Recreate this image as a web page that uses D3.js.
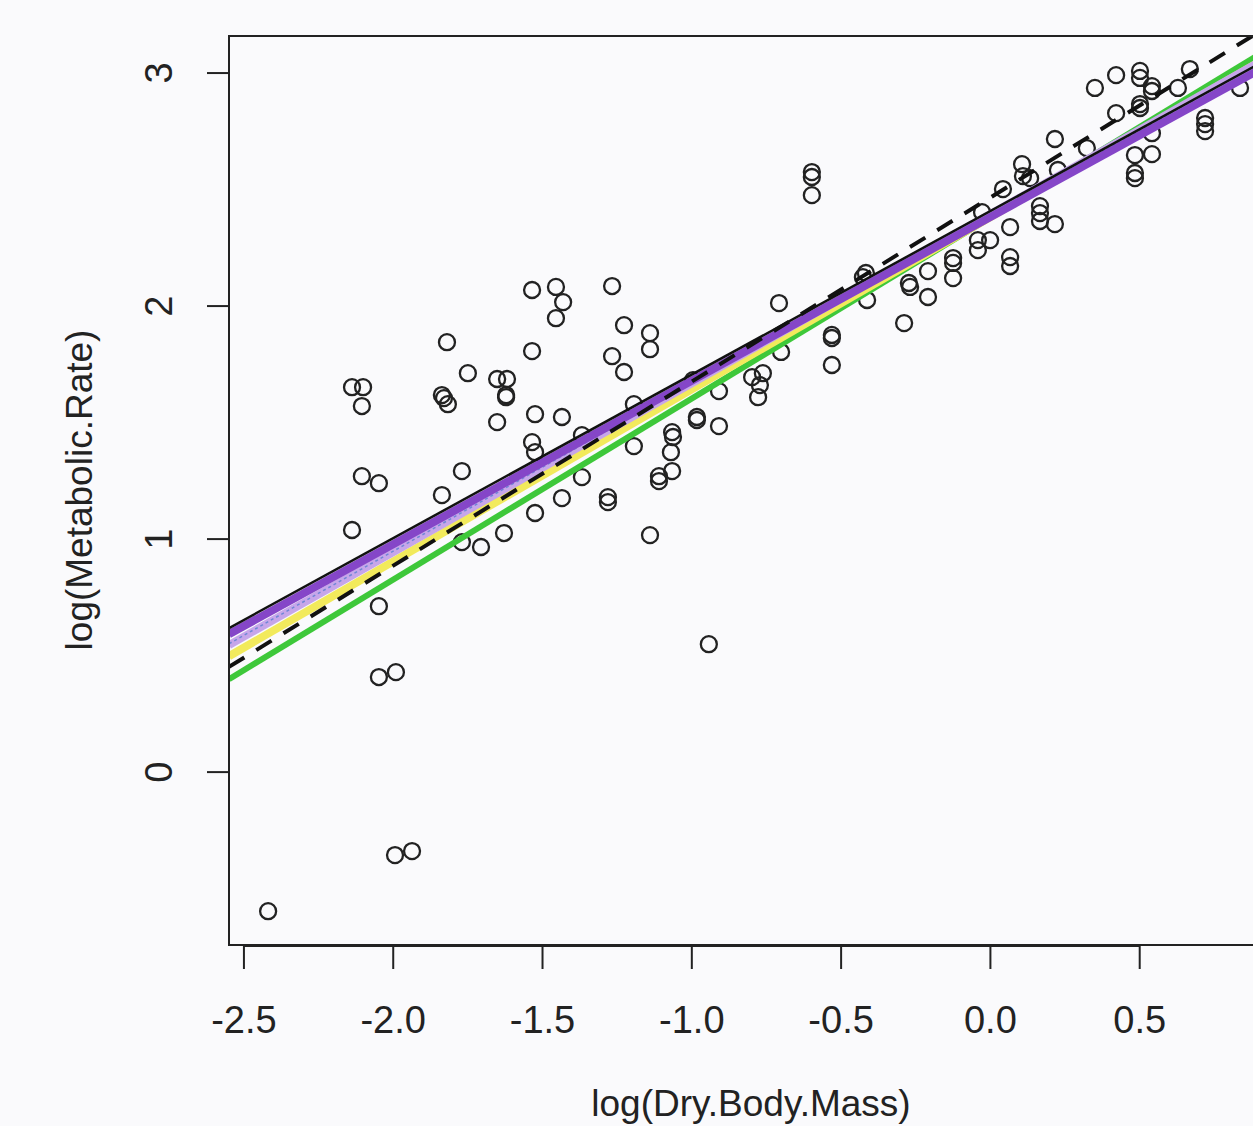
<!DOCTYPE html>
<html>
<head>
  <meta charset="utf-8">
  <script src="https://d3js.org/d3.v7.min.js"></script>
  <style>
    body { margin: 0; background-color: #fafafc; }
    svg { display: block; background-color: #fafafc; }
    text { font-family: "Liberation Sans", Arial, sans-serif; fill: #222; }
  </style>
</head>
<body>
  <svg id="plot" width="1253" height="1126"></svg>

  <script>
    // data: log(Dry.Body.Mass) vs log(Metabolic.Rate)
    var massLog = [
      -2.419, -1.994, -1.937, -2.048, -1.991, -2.048, -2.138, -2.105, -2.048, -2.138,
      -2.101, -2.105, -1.820, -1.837, -1.830, -1.817, -1.750, -1.770, -1.837, -1.770,
      -1.706, -1.629, -1.652, -1.619, -1.622, -1.622, -1.652, -1.535, -1.455, -1.431,
      -1.455, -1.535, -1.525, -1.435, -1.535, -1.525, -1.435, -1.525, -1.368, -1.368,
      -1.281, -1.281, -1.267, -1.227, -1.140, -1.140, -1.267, -1.227, -1.194, -1.194,
      -1.140, -1.110, -1.110, -1.066, -1.063, -1.070, -1.066, -0.996, -0.983, -0.983,
      -0.909, -0.909, -0.943, -0.798, -0.762, -0.772, -0.778, -0.708, -0.701, -0.598,
      -0.598, -0.598, -0.531, -0.531, -0.531, -0.417, -0.427, -0.413, -0.289, -0.273,
      -0.269, -0.209, -0.209, -0.125, -0.125, -0.125, -0.042, -0.042, -0.001, -0.028,
       0.066,  0.066,  0.066,  0.042,  0.106,  0.109,  0.133,  0.166,  0.166,  0.166,
       0.216,  0.216,  0.323,  0.226,  0.350,  0.421,  0.501,  0.501,  0.541,  0.541,
       0.501,  0.501,  0.421,  0.628,  0.668,  0.541,  0.484,  0.541,  0.484,  0.484,
       0.719,  0.719,  0.719,  0.836
    ];
    var rateLog = [
      -0.597, -0.356, -0.339,  0.408,  0.429,  0.712,  1.039,  1.270,  1.240,  1.652,
       1.652,  1.571,  1.845,  1.618,  1.605,  1.579,  1.712,  1.292,  1.189,  0.987,
       0.966,  1.026,  1.687,  1.687,  1.618,  1.609,  1.502,  2.069,  2.082,  2.017,
       1.948,  1.807,  1.536,  1.524,  1.416,  1.373,  1.176,  1.112,  1.446,  1.266,
       1.180,  1.159,  2.086,  1.918,  1.884,  1.815,  1.785,  1.717,  1.579,  1.399,
       1.017,  1.270,  1.249,  1.459,  1.438,  1.373,  1.292,  1.682,  1.524,  1.511,
       1.635,  1.485,  0.549,  1.695,  1.712,  1.661,  1.609,  2.013,  1.803,  2.575,
       2.554,  2.476,  1.876,  1.863,  1.747,  2.142,  2.124,  2.026,  1.927,  2.099,
       2.082,  2.150,  2.039,  2.206,  2.185,  2.120,  2.283,  2.240,  2.283,  2.403,
       2.339,  2.210,  2.172,  2.502,  2.609,  2.558,  2.549,  2.429,  2.399,  2.365,
       2.352,  2.717,  2.678,  2.584,  2.936,  2.991,  3.009,  2.979,  2.944,  2.923,
       2.867,  2.850,  2.828,  2.936,  3.017,  2.742,  2.648,  2.652,  2.571,  2.549,
       2.807,  2.781,  2.751,  2.936
    ];

    // fitted lines (intercept, slope)
    var lineNames = ["green", "yellow", "lavender", "blue", "purple", "black", "dashed"];
    var intercepts = [2.380, 2.382, 2.394, 2.392, 2.382, 2.408, 2.466];
    var slopes     = [0.777, 0.739, 0.725, 0.722, 0.702, 0.702, 0.790];
    var lineColors = ["#3ec83a", "#f2ea5c", "#c6a6ea", "#6f86d6", "#8546c8", "#111111", "#111111"];
    var lineWidths = [6, 8, 8, 1.5, 8, 2.5, 4];
    var lineDash   = [null, null, null, "3,3", null, null, "18,14"];

    var xTicks = [-2.5, -2.0, -1.5, -1.0, -0.5, 0.0, 0.5];
    var yTicks = [0, 1, 2, 3];

    var svg = d3.select("#plot");

    var x = d3.scaleLinear().domain([-2.55, 1.0]).range([229, 1289]);
    var y = d3.scaleLinear().domain([-0.742, 3.159]).range([945, 36]);

    svg.append("clipPath")
      .attr("id", "clip")
      .append("rect")
      .attr("x", 229).attr("y", 36)
      .attr("width", 1289 - 229).attr("height", 945 - 36);

    var plotArea = svg.append("g").attr("clip-path", "url(#clip)");

    // points
    plotArea.selectAll("circle")
      .data(massLog)
      .enter()
      .append("circle")
      .attr("cx", function (d) { return x(d); })
      .attr("cy", function (d, i) { return y(rateLog[i]); })
      .attr("r", 8)
      .attr("fill", "none")
      .attr("stroke", "#222")
      .attr("stroke-width", 2.3);

    // regression lines
    var xd = x.domain();
    plotArea.selectAll("line.fit")
      .data(lineNames)
      .enter()
      .append("line")
      .attr("class", "fit")
      .attr("x1", x(xd[0]))
      .attr("x2", x(xd[1]))
      .attr("y1", function (d, i) { return y(intercepts[i] + slopes[i] * xd[0]); })
      .attr("y2", function (d, i) { return y(intercepts[i] + slopes[i] * xd[1]); })
      .attr("stroke", function (d, i) { return lineColors[i]; })
      .attr("stroke-width", function (d, i) { return lineWidths[i]; })
      .attr("stroke-dasharray", function (d, i) { return lineDash[i]; });

    // box
    svg.append("rect")
      .attr("x", 229).attr("y", 36)
      .attr("width", 1289 - 229).attr("height", 945 - 36)
      .attr("fill", "none")
      .attr("stroke", "#222")
      .attr("stroke-width", 2);

    // x axis
    var xAxis = svg.append("g");
    xAxis.append("line")
      .attr("x1", x(xTicks[0])).attr("x2", x(xTicks[xTicks.length - 1]))
      .attr("y1", 946).attr("y2", 946)
      .attr("stroke", "#222").attr("stroke-width", 2);
    xAxis.selectAll("line.tick")
      .data(xTicks)
      .enter()
      .append("line")
      .attr("class", "tick")
      .attr("x1", function (d) { return x(d); })
      .attr("x2", function (d) { return x(d); })
      .attr("y1", 946).attr("y2", 969)
      .attr("stroke", "#222").attr("stroke-width", 2);
    xAxis.selectAll("text")
      .data(xTicks)
      .enter()
      .append("text")
      .attr("x", function (d) { return x(d); })
      .attr("y", 1033)
      .attr("text-anchor", "middle")
      .style("font-size", "38px")
      .text(function (d) { return d.toFixed(1); });

    // y axis
    var yAxis = svg.append("g");
    yAxis.selectAll("line.tick")
      .data(yTicks)
      .enter()
      .append("line")
      .attr("class", "tick")
      .attr("x1", 207).attr("x2", 229)
      .attr("y1", function (d) { return y(d); })
      .attr("y2", function (d) { return y(d); })
      .attr("stroke", "#222").attr("stroke-width", 2);
    yAxis.selectAll("text")
      .data(yTicks)
      .enter()
      .append("text")
      .attr("transform", function (d) { return "translate(172," + y(d) + ") rotate(-90)"; })
      .attr("text-anchor", "middle")
      .style("font-size", "38px")
      .text(function (d) { return d; });

    // axis titles
    svg.append("text")
      .attr("x", 751)
      .attr("y", 1116)
      .attr("text-anchor", "middle")
      .style("font-size", "37px")
      .text("log(Dry.Body.Mass)");

    svg.append("text")
      .attr("transform", "translate(92,490) rotate(-90)")
      .attr("text-anchor", "middle")
      .style("font-size", "37px")
      .text("log(Metabolic.Rate)");
  </script>
</body>
</html>
